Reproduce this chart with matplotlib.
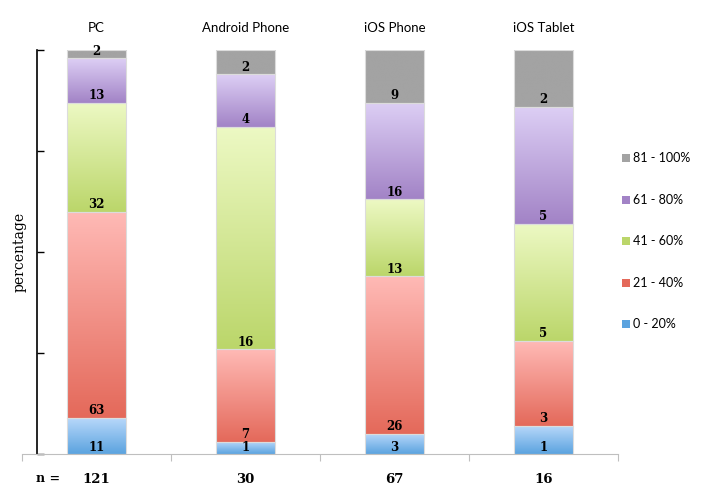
import numpy as np
import matplotlib
matplotlib.use("Agg")
import matplotlib.pyplot as plt
from matplotlib.colors import LinearSegmentedColormap
from matplotlib.patches import Rectangle

devices = ["PC", "Android Phone", "iOS Phone", "iOS Tablet"]
n = [121, 30, 67, 16]
ranges = ["0 - 20%", "21 - 40%", "41 - 60%", "61 - 80%", "81 - 100%"]

# bar heights (percent of each bar)
pct_0_20 = [9, 3, 5, 7]
pct_21_40 = [51, 23, 39, 21]
pct_41_60 = [27, 55, 19, 29]
pct_61_80 = [11, 13, 24, 29]
pct_81_100 = [2, 6, 13, 14]

# the numbers printed on the segments
lab_0_20 = [11, 1, 3, 1]
lab_21_40 = [63, 7, 26, 3]
lab_41_60 = [32, 16, 13, 5]
lab_61_80 = [13, 4, 16, 5]
lab_81_100 = [2, 2, 9, 2]

pct = [pct_0_20, pct_21_40, pct_41_60, pct_61_80, pct_81_100]
labels = [lab_0_20, lab_21_40, lab_41_60, lab_61_80, lab_81_100]

# (top colour, bottom colour) for the gradient fills
grads = [("#bad9fb", "#5ba3df"),
         ("#ffbab6", "#e4695a"),
         ("#edf9c4", "#bbd66a"),
         ("#ddcff5", "#a283c6"),
         ("#a3a3a3", "#a3a3a3")]

fig = plt.figure(figsize=(7.24, 4.99), dpi=100)
ax = fig.add_axes([22 / 724, 1 - 454 / 499, (618 - 22) / 724, 404 / 499])

x = np.arange(len(devices))
w = 0.4
bottom = np.zeros(len(devices))
grad = np.linspace(0, 1, 256).reshape(-1, 1)
for i, rng in enumerate(ranges):
    cmap = LinearSegmentedColormap.from_list("g", [grads[i][1], grads[i][0]])
    bars = ax.bar(x, pct[i], w, bottom=bottom, color="none",
                  edgecolor="#dcdcdc", linewidth=0.8, zorder=3)
    for j, b in enumerate(bars):
        im = ax.imshow(grad, extent=[b.get_x(), b.get_x() + w, b.get_y(), b.get_y() + b.get_height()],
                       aspect="auto", cmap=cmap, origin="lower", zorder=2)
        im.set_clip_path(b)
        ax.text(x[j], bottom[j] + 0.1, "%d" % labels[i][j], ha="center", va="bottom",
                fontsize=8.5, fontweight="bold", family="DejaVu Serif", zorder=4)
    bottom += np.array(pct[i])

ax.set_xlim(-0.5, 3.5)
ax.set_ylim(0, 100)

for s in ["top", "right"]:
    ax.spines[s].set_visible(False)
ax.spines["left"].set_position(("data", -0.4))
ax.spines["left"].set_linewidth(1.2)
ax.spines["bottom"].set_color("#bfbfbf")
ax.set_yticks([0, 25, 50, 75, 100])
ax.set_yticklabels([])
ax.tick_params(axis="y", direction="in", length=5, width=1)
ax.set_xticks([-0.5, 0.5, 1.5, 2.5, 3.5])
ax.set_xticklabels([])
ax.tick_params(axis="x", direction="out", length=5, color="#bfbfbf")

for j, d in enumerate(devices):
    ax.text(x[j], 105.5, d, ha="center", va="center", fontsize=9.5, family="Lato", clip_on=False)
    ax.text(x[j], -6.2, "%d" % n[j], ha="center", va="center", fontsize=9.5,
            fontweight="bold", family="DejaVu Serif", clip_on=False)
fig.text(36 / 724, 1 - 479 / 499, "n =", ha="left", va="center", fontsize=9,
         fontweight="bold", family="DejaVu Serif")
fig.text(20 / 724, 1 - 252 / 499, "percentage", rotation=90, ha="center", va="center",
         fontsize=10, family="DejaVu Serif")

# legend, top entry first
ys = [158, 200, 241, 283, 324]
for k, i in enumerate(range(len(ranges) - 1, -1, -1)):
    yc = 1 - ys[k] / 499
    fig.add_artist(Rectangle((622 / 724, yc - 4 / 499), 8 / 724, 8 / 499,
                             transform=fig.transFigure, color=grads[i][1], lw=0))
    fig.text(633 / 724, yc, ranges[i], ha="left", va="center", fontsize=9, family="Lato")

fig.savefig("out.png", dpi=100)
